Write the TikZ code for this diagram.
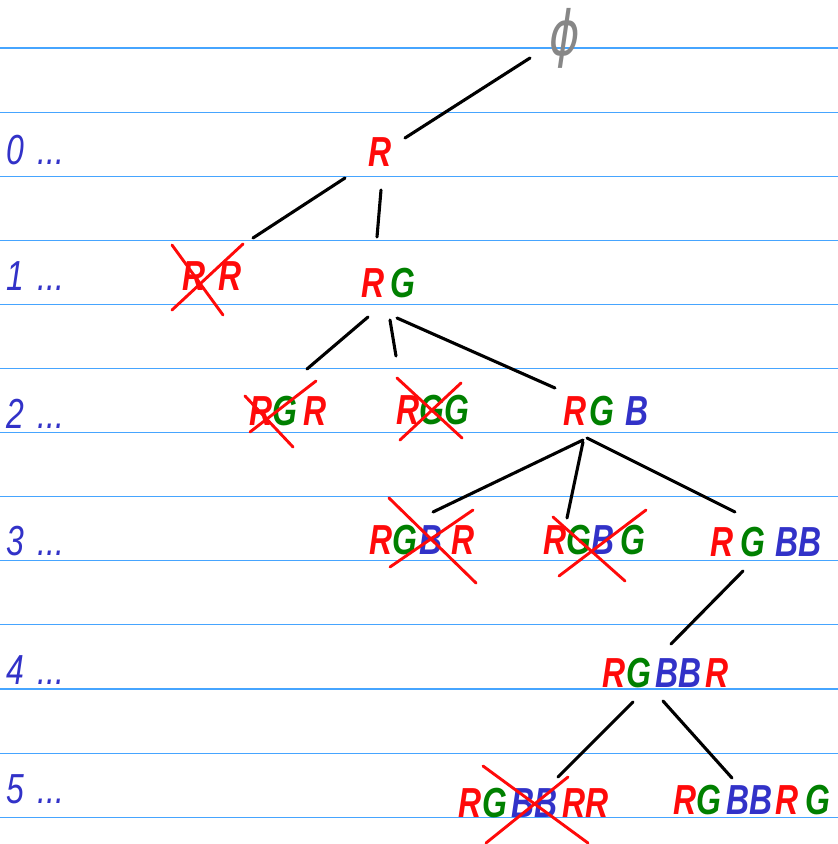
\documentclass[tikz,border=0pt]{standalone}
\usepackage{fontspec}
\setmainfont{Liberation Sans}[FakeStretch=0.76]
\newfontfamily\symfont{DejaVu Sans}[FakeStretch=0.75]
\definecolor{penred}{RGB}{255,10,10}
\definecolor{pengreen}{RGB}{0,128,0}
\definecolor{penblue}{RGB}{50,50,200}
\definecolor{pengray}{RGB}{135,135,135}
\definecolor{rulebl}{RGB}{70,165,255}
\newcommand{\rR}{\textcolor{penred}{R}}
\newcommand{\gG}{\textcolor{pengreen}{G}}
\newcommand{\bB}{\textcolor{penblue}{B}}
\begin{document}
\begin{tikzpicture}[x=1pt,y=-1pt,
    letters/.style={font=\fontsize{42}{48}\selectfont\bfseries\itshape, inner sep=0pt},
    edge/.style={line width=3.1pt, line cap=round},
    cross/.style={penred, line width=2.9pt, line cap=round},
    rule/.style={rulebl, line width=1.1pt}]
  \useasboundingbox (0,0) rectangle (838,844);
  % ruled paper
  \foreach \k in {0,...,12}
    \draw[rule] (0,{48+64.1*\k}) -- (838,{48+64.1*\k});
  % levels
  \foreach \y/\n in {150/0,276/1,414/2,541/3,670/4,789/5}
    \node[letters, font=\fontsize{42}{48}\selectfont\itshape, penblue, anchor=west] (lv\n) at (6,\y) {\n\hspace{14pt}...};
  % tree
  \node[inner sep=0pt, pengray, font=\fontsize{62}{66}\selectfont\symfont\itshape] (phi) at (565,38) {ϕ};
  \node[letters] (r0) at (380,152) {\rR};
  \node[letters] (rr) at (212,276) {\rR\hspace{12pt}\rR};
  \node[letters] (rg) at (388,283) {\rR\hspace{6pt}\gG};
  \node[letters] (rgr) at (288,411) {\rR\gG\hspace{6pt}\rR};
  \node[letters] (rgg) at (433,410) {\rR\gG\gG};
  \node[letters] (rgb) at (606,411) {\rR\hspace{3pt}\gG\hspace{12pt}\bB};
  \node[letters] (rgbr) at (422,540) {\rR\gG\hspace{2pt}\bB\hspace{9pt}\rR};
  \node[letters] (rgbg) at (594,540) {\rR\gG\bB\hspace{6pt}\gG};
  \node[letters] (rgbb) at (766,542) {\rR\hspace{7pt}\gG\hspace{10pt}\bB\bB};
  \node[letters] (rgbbr) at (666,673) {\rR\gG\hspace{5pt}\bB\bB\hspace{4pt}\rR};
  \node[letters] (rgbbrr) at (534,803) {\rR\gG\hspace{5pt}\bB\bB\hspace{5pt}\rR\rR};
  \node[letters] (rgbbrg) at (752,800) {\rR\gG\hspace{5pt}\bB\bB\hspace{3pt}\rR\hspace{7pt}\gG};
  % connectors
  \draw[edge] ([shift={(-35,20)}]phi.center) -- ([shift={(25,-14)}]r0.center);
  \draw[edge] ([shift={(-35,26)}]r0.center) -- ([shift={(41,-38)}]rr.center);
  \draw[edge] ([shift={(1,38)}]r0.center) -- ([shift={(-11,-46)}]rg.center);
  \draw[edge] ([shift={(-20,34)}]rg.center) -- ([shift={(19,-42)}]rgr.center);
  \draw[edge] ([shift={(2,37)}]rg.center) -- ([shift={(-37,-54)}]rgg.center);
  \draw[edge] ([shift={(9,35)}]rg.center) -- ([shift={(-51,-23)}]rgb.center);
  \draw[edge] ([shift={(-23,29)}]rgb.center) -- ([shift={(11,-28)}]rgbr.center);
  \draw[edge] ([shift={(-23,31)}]rgb.center) -- ([shift={(-27,-22)}]rgbg.center);
  \draw[edge] ([shift={(-19,27)}]rgb.center) -- ([shift={(-31,-30)}]rgbb.center);
  \draw[edge] ([shift={(-23,29)}]rgbb.center) -- ([shift={(5,-29)}]rgbbr.center);
  \draw[edge] ([shift={(-33,29)}]rgbbr.center) -- ([shift={(24,-26)}]rgbbrr.center);
  \draw[edge] ([shift={(-3,28)}]rgbbr.center) -- ([shift={(-20,-22)}]rgbbrg.center);
  % crossed out
  \draw[cross] ([shift={(-40,-31)}]rr.center) -- ([shift={(11,39)}]rr.center);
  \draw[cross] ([shift={(31,-32)}]rr.center) -- ([shift={(-40,34)}]rr.center);
  \draw[cross] ([shift={(-38,21)}]rgr.center) -- ([shift={(28,-30)}]rgr.center);
  \draw[cross] ([shift={(-43,-15)}]rgr.center) -- ([shift={(5,36)}]rgr.center);
  \draw[cross] ([shift={(-36,-32)}]rgg.center) -- ([shift={(29,28)}]rgg.center);
  \draw[cross] ([shift={(28,-27)}]rgg.center) -- ([shift={(-33,30)}]rgg.center);
  \draw[cross] ([shift={(-33,-42)}]rgbr.center) -- ([shift={(54,43)}]rgbr.center);
  \draw[cross] ([shift={(51,-30)}]rgbr.center) -- ([shift={(-32,27)}]rgbr.center);
  \draw[cross] ([shift={(-41,-23)}]rgbg.center) -- ([shift={(31,41)}]rgbg.center);
  \draw[cross] ([shift={(52,-30)}]rgbg.center) -- ([shift={(-35,36)}]rgbg.center);
  \draw[cross] ([shift={(-51,-37)}]rgbbrr.center) -- ([shift={(54,40)}]rgbbrr.center);
  \draw[cross] ([shift={(34,-26)}]rgbbrr.center) -- ([shift={(-48,40)}]rgbbrr.center);
\end{tikzpicture}
\end{document}
